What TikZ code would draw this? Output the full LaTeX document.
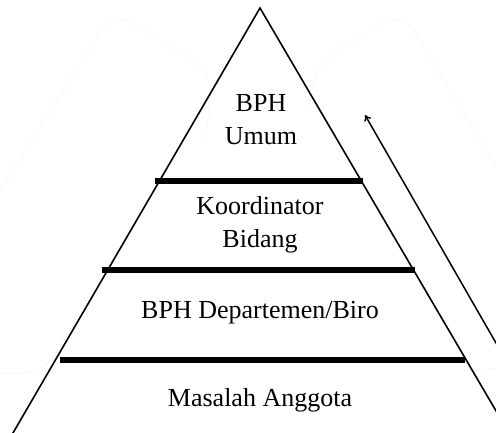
\documentclass[tikz,border=0pt]{standalone}
\usepackage{fontspec}
\setmainfont{Liberation Serif}
\usetikzlibrary{arrows.meta}
\begin{document}
\begin{tikzpicture}[x=1pt,y=-1pt,
  side/.style={line width=1.6pt},
  bar/.style={line width=5.5pt},
  faint/.style={draw=black!4,line width=0.6pt,rounded corners=22pt},
  lbl/.style={font=\fontsize{26}{33}\selectfont,align=center,inner sep=0pt},
  flow/.style={line width=1.5pt,-{To[length=6pt,width=7.5pt]}}]
\useasboundingbox (0,0) rectangle (496,433);
\clip (0,0) rectangle (496,433);
% faint background outlines
\draw[faint] (0,190) -- (113,12) -- (212,72) -- (206,140);
\draw[faint] (82,312) -- (45,372) -- (0,374);
\draw[faint] (308,110) -- (318,62) -- (403,12) -- (510,190);
\draw[faint] (470,372) -- (496,368);
% triangle
\coordinate (apex) at (260,8);
\coordinate (bl) at (6,445);
\coordinate (br) at (516,445);
\draw[side] (bl) -- (apex) -- (br);
% bars
\coordinate (b1l) at (155,181); \coordinate (b1r) at (363,181);
\coordinate (b2l) at (102,270); \coordinate (b2r) at (415,270);
\coordinate (b3l) at (60,360);  \coordinate (b3r) at (465,360);
\draw[bar] (b1l) -- (b1r);
\draw[bar] (b2l) -- (b2r);
\draw[bar] (b3l) -- (b3r);
% labels
\node[lbl] (t1) at (261,120) {BPH\\Umum};
\node[lbl] (t2) at (260,225) {Koordinator\\Bidang};
\node[lbl] (t3) at (260,313) {BPH Departemen/Biro};
\node[lbl] (t4) at (260,400) {Masalah Anggota};
% arrow
\coordinate (as) at (500,350);
\coordinate (ae) at (365,115);
\draw[flow] (as) -- (ae);
\end{tikzpicture}
\end{document}
